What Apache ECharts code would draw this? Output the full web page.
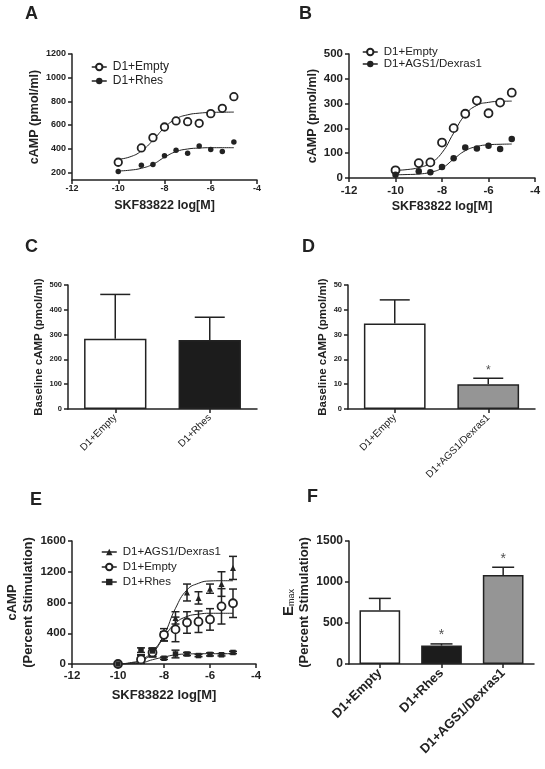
<!DOCTYPE html>
<html><head><meta charset="utf-8">
<script src="https://cdn.jsdelivr.net/npm/echarts@6/dist/echarts.min.js"></script>
<style>html,body{margin:0;padding:0;background:#fff}#c{width:545px;height:769px}</style>
</head><body><div id="c"></div>
<script>
// ---------- DATA ----------
const doses = [-10, -9, -8.5, -8, -7.5, -7, -6.5, -6, -5.5, -5];
const fitDoses = [-10, -9.5, -9, -8.5, -8, -7.5, -7, -6.5, -6, -5.5, -5];
const xTickLabels = [-12, -10, -8, -6, -4];

// Panel A
const aEmpty = [285, 406, 493, 583, 634, 628, 614, 696, 741, 839];
const aRhes = [206, 259, 265, 341, 386, 361, 423, 392, 375, 456];
const aEmptyFit = [310, 330, 380, 470, 578, 652, 686, 700, 706, 708, 709];
const aRhesFit = [211, 218, 234, 268, 327, 375, 397, 405, 408, 408, 408];
const aYTicks = [200, 400, 600, 800, 1000, 1200];

// Panel B
const bEmpty = [31, 60, 63, 143, 201, 259, 312, 261, 304, 344];
const bAGS = [13, 27, 23, 44, 80, 123, 119, 130, 117, 157];
const bEmptyFit = [31, 34, 42, 60, 102, 181, 255, 293, 305, 309, 310];
const bAGSFit = [13, 14, 16, 23, 40, 76, 110, 127, 134, 136, 137];

// Panel C
const cCats = ['D1+Empty', 'D1+Rhes'];
const cMeans = [283, 278];
const cErr = [179, 92];

// Panel D
const dCats = ['D1+Empty', 'D1+AGS1/Dexras1'];
const dMeans = [34.5, 10];
const dErr = [9.5, 2.4];
const dStars = [false, true];

// Panel E
const eAGS = [0, 80, 150, 360, 600, 930, 860, 980, 1040, 1250];
const eAGSErr = [0, 40, 50, 60, 80, 110, 80, 60, 160, 150];
const eEmpty = [0, 60, 150, 380, 450, 540, 550, 580, 750, 790];
const eEmptyErr = [0, 50, 60, 80, 160, 140, 140, 140, 230, 185];
const eRhes = [0, 180, 170, 75, 130, 130, 110, 125, 120, 150];
const eRhesErr = [0, 30, 30, 15, 50, 20, 15, 20, 15, 15];
const eAGSFit = [0, 15, 56, 163, 380, 725, 964, 1050, 1080, 1083, 1083];
const eEmptyFit = [0, 10, 43, 142, 349, 531, 618, 648, 660, 660, 660];
const eRhesFit = [0, 3, 13, 56, 90, 120, 130, 133, 134, 134, 134];

// Panel F
const fCats = ['D1+Empty', 'D1+Rhes', 'D1+AGS1/Dexras1'];
const fMeans = [655, 225, 1085];
const fErr = [145, 20, 95];
const fStars = [false, true, true];

// ---------- STYLE ----------
const FONT = 'Liberation Sans, Arial, sans-serif';
const INK = '#222';
const WHITE = '#ffffff', BLACK = '#1c1c1c', GRAY = '#959595';
const plain = v => String(v);

function pairs(xs, ys) { return xs.map((x, i) => [x, ys[i]]); }

function errRender(capHalf, upOnly) {
  return function (params, api) {
    const x = api.value(0), m = api.value(1), e = api.value(2);
    if (!e) return;
    const pt = api.coord([x, m + e]);
    const pb = upOnly ? api.coord([x, m]) : api.coord([x, m - e]);
    const st = { stroke: INK, lineWidth: 1.5 };
    const ch = [
      { type: 'line', shape: { x1: pt[0], y1: pt[1], x2: pb[0], y2: pb[1] }, style: st },
      { type: 'line', shape: { x1: pt[0] - capHalf, y1: pt[1], x2: pt[0] + capHalf, y2: pt[1] }, style: st }
    ];
    if (!upOnly) ch.push({ type: 'line', shape: { x1: pb[0] - capHalf, y1: pb[1], x2: pb[0] + capHalf, y2: pb[1] }, style: st });
    return { type: 'group', children: ch };
  };
}

function axisCommon(fs) {
  return {
    axisLine: { show: true, onZero: false, lineStyle: { color: INK, width: 1.5 } },
    axisTick: { show: true, length: 4, lineStyle: { color: INK, width: 1.5 } },
    splitLine: { show: false },
    axisLabel: { color: INK, fontFamily: FONT, fontWeight: 'bold', fontSize: fs, formatter: plain }
  };
}

function doseX(gi, fs, nameFs, gap, margin) {
  const a = axisCommon(fs);
  a.axisLabel.margin = margin;
  return Object.assign(a, {
    type: 'value', gridIndex: gi, min: -12, max: -4, interval: 2,
    name: 'SKF83822 log[M]', nameLocation: 'middle', nameGap: gap,
    nameTextStyle: { color: INK, fontFamily: FONT, fontWeight: 'bold', fontSize: nameFs }
  });
}

function valY(gi, min, max, interval, fs, name, nameFs, gap, extra) {
  const a = axisCommon(fs);
  a.axisLabel.margin = 6;
  Object.assign(a, {
    type: 'value', gridIndex: gi, min: min, max: max, interval: interval,
    name: name, nameLocation: 'middle', nameGap: gap,
    nameTextStyle: Object.assign({ color: INK, fontFamily: FONT, fontWeight: 'bold', fontSize: nameFs, lineHeight: nameFs + 3 }, extra || {})
  });
  return a;
}

function catX(gi, cats, fs, bold, margin) {
  const a = axisCommon(fs);
  delete a.axisLabel.formatter;
  a.axisLabel.rotate = 45;
  a.axisLabel.interval = 0;
  a.axisLabel.margin = margin;
  a.axisLabel.fontWeight = bold ? 'bold' : 'normal';
  a.axisTick.alignWithLabel = true;
  a.axisTick.interval = 0;
  return Object.assign(a, { type: 'category', gridIndex: gi, data: cats });
}

// series names carry a panel prefix ("A|...") so that each legend finds its own series
function ptsSeries(name, gi, xs, ys, symbol, size, open) {
  return {
    type: 'line', name: name, xAxisIndex: gi, yAxisIndex: gi,
    data: pairs(xs, ys), symbol: symbol, symbolSize: size, showSymbol: true,
    lineStyle: { width: 0, opacity: 0 },
    itemStyle: open ? { color: WHITE, borderColor: INK, borderWidth: 1.8 } : { color: INK, borderColor: INK, borderWidth: 0 },
    z: 5, silent: true
  };
}

function fitSeries(gi, ys) {
  return {
    type: 'line', xAxisIndex: gi, yAxisIndex: gi, data: pairs(fitDoses, ys),
    smooth: 0.5, showSymbol: false, symbol: 'none',
    lineStyle: { color: INK, width: 1 }, z: 3, silent: true
  };
}

function errSeries(gi, xs, ys, es, capHalf, upOnly) {
  return {
    type: 'custom', xAxisIndex: gi, yAxisIndex: gi,
    data: xs.map((x, i) => [x, ys[i], es[i]]),
    renderItem: errRender(capHalf, upOnly), z: 2, silent: true
  };
}

function barSeries(gi, means, colors, width) {
  return {
    type: 'bar', xAxisIndex: gi, yAxisIndex: gi, barWidth: width,
    data: means.map((m, i) => ({ value: m, itemStyle: { color: colors[i], borderColor: INK, borderWidth: 1.5 } })),
    z: 1, silent: true
  };
}

function starSeries(gi, means, errs, stars, fs) {
  const d = [];
  means.forEach((m, i) => { if (stars[i]) d.push([i, m + errs[i]]); });
  return {
    type: 'scatter', xAxisIndex: gi, yAxisIndex: gi, data: d,
    symbol: 'circle', symbolSize: 1, itemStyle: { color: 'rgba(0,0,0,0)' },
    label: { show: true, formatter: '*', position: 'top', distance: 1, color: INK, fontFamily: FONT, fontSize: fs },
    z: 6, silent: true
  };
}

function legendBox(left, top, names, fs, gap) {
  return {
    orient: 'vertical', left: left, top: top, itemWidth: 15, itemHeight: 8, itemGap: gap,
    data: names, selectedMode: false,
    formatter: n => n.split('|')[1],
    textStyle: { color: INK, fontFamily: FONT, fontSize: fs, padding: [0, 0, 0, 1] },
    lineStyle: { color: INK, width: 1.5, opacity: 1 }
  };
}

function letter(t, left, top) {
  return { text: t, left: left, top: top, padding: 0, textStyle: { fontFamily: FONT, fontWeight: 'bold', fontSize: 18, color: INK } };
}

const option = {
  animation: false,
  backgroundColor: '#ffffff',
  title: [letter('A', 25, 5), letter('B', 299, 5), letter('C', 25, 238), letter('D', 302, 238), letter('E', 30, 491), letter('F', 307, 488)],
  legend: [
    legendBox(86, 56, ['A|D1+Empty', 'A|D1+Rhes'], 12, 2),
    legendBox(357, 41, ['B|D1+Empty', 'B|D1+AGS1/Dexras1'], 11.5, 0),
    legendBox(96, 541, ['E|D1+AGS1/Dexras1', 'E|D1+Empty', 'E|D1+Rhes'], 11.5, 3)
  ],
  grid: [
    { left: 72, top: 54, width: 185, height: 126, outerBoundsMode: 'none' },
    { left: 349, top: 54, width: 186, height: 124, outerBoundsMode: 'none' },
    { left: 68, top: 285, width: 189, height: 124, outerBoundsMode: 'none' },
    { left: 348, top: 285, width: 187, height: 124, outerBoundsMode: 'none' },
    { left: 72, top: 541, width: 184, height: 123, outerBoundsMode: 'none' },
    { left: 349, top: 541, width: 185, height: 123, outerBoundsMode: 'none' }
  ],
  xAxis: [
    doseX(0, 9, 12.5, 19, 4),
    doseX(1, 11.5, 12.5, 22, 7),
    catX(2, cCats, 10, false, 7),
    catX(3, dCats, 10, false, 7),
    doseX(4, 11.5, 13, 25, 6),
    catX(5, fCats, 13, true, 7)
  ],
  yAxis: [
    (function () {
      const a = valY(0, 135, 1200, null, 9, 'cAMP (pmol/ml)', 12.5, 20);
      delete a.interval;
      a.axisLabel.customValues = aYTicks;
      a.axisTick.customValues = aYTicks;
      return a;
    })(),
    valY(1, 0, 500, 100, 11.5, 'cAMP (pmol/ml)', 12.5, 25),
    valY(2, 0, 500, 100, 7.5, 'Baseline cAMP (pmol/ml)', 11.5, 16),
    valY(3, 0, 50, 10, 7.5, 'Baseline cAMP (pmol/ml)', 11.5, 15),
    valY(4, 0, 1600, 400, 11.5, 'cAMP\n(Percent Stimulation)', 13, 32),
    valY(5, 0, 1500, 500, 12, '{e|E}{s|max}\n(Percent Stimulation)', 13, 32, {
      rich: {
        e: { fontFamily: FONT, fontWeight: 'bold', fontSize: 15, color: INK, lineHeight: 18, verticalAlign: 'bottom' },
        s: { fontFamily: FONT, fontWeight: 'normal', fontSize: 9, color: INK, lineHeight: 18, verticalAlign: 'bottom' }
      }
    })
  ],
  series: [
    // A
    fitSeries(0, aEmptyFit), fitSeries(0, aRhesFit),
    ptsSeries('A|D1+Empty', 0, doses, aEmpty, 'circle', 7.5, true),
    ptsSeries('A|D1+Rhes', 0, doses, aRhes, 'circle', 5.5, false),
    // B
    fitSeries(1, bEmptyFit), fitSeries(1, bAGSFit),
    ptsSeries('B|D1+Empty', 1, doses, bEmpty, 'circle', 8, true),
    ptsSeries('B|D1+AGS1/Dexras1', 1, doses, bAGS, 'circle', 6.5, false),
    // C
    barSeries(2, cMeans, [WHITE, BLACK], '66%'),
    errSeries(2, [0, 1], cMeans, cErr, 15, true),
    // D
    barSeries(3, dMeans, [WHITE, GRAY], '66%'),
    errSeries(3, [0, 1], dMeans, dErr, 15, true),
    starSeries(3, dMeans, dErr, dStars, 12),
    // E
    errSeries(4, doses, eAGS, eAGSErr, 4, false),
    errSeries(4, doses, eEmpty, eEmptyErr, 4, false),
    errSeries(4, doses, eRhes, eRhesErr, 4, false),
    fitSeries(4, eAGSFit), fitSeries(4, eEmptyFit), fitSeries(4, eRhesFit),
    ptsSeries('E|D1+AGS1/Dexras1', 4, doses, eAGS, 'triangle', 6, false),
    ptsSeries('E|D1+Empty', 4, doses, eEmpty, 'circle', 8, true),
    ptsSeries('E|D1+Rhes', 4, doses, eRhes, 'rect', 5.5, false),
    // F
    barSeries(5, fMeans, [WHITE, BLACK, GRAY], '66%'),
    errSeries(5, [0, 1, 2], fMeans, fErr, 11, true),
    starSeries(5, fMeans, fErr, fStars, 14)
  ]
};

const chart = echarts.init(document.getElementById('c'), null, { renderer: 'canvas' });
chart.setOption(option);
</script>
</body></html>
